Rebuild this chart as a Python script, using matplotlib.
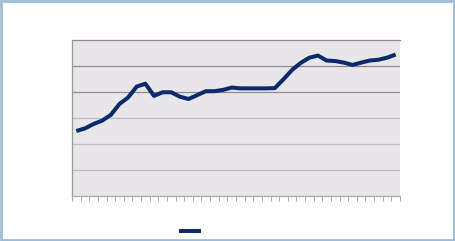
import numpy as np
import matplotlib.pyplot as plt
from matplotlib.patches import Rectangle

# values (one point per category, 38 categories)
values = [2.50, 2.60, 2.77, 2.90, 3.12, 3.54, 3.79, 4.21, 4.32, 3.85,
          3.99, 3.99, 3.82, 3.73, 3.88, 4.03, 4.03, 4.08, 4.17, 4.14,
          4.14, 4.14, 4.14, 4.15, 4.49, 4.85, 5.12, 5.32, 5.40, 5.21,
          5.19, 5.13, 5.04, 5.13, 5.21, 5.24, 5.32, 5.44]
y_grid = [0, 1, 2, 3, 4, 5, 6]

n = len(values)
x = np.arange(n) + 0.5

fig = plt.figure(figsize=(4.55, 2.41), dpi=100)
fig.patch.set_facecolor("white")

# light blue frame around the chart
fig.patches.append(Rectangle((0.002, 0.004), 0.996, 0.992, transform=fig.transFigure,
                             fill=False, edgecolor="#9ebcd8", linewidth=2.0))

ax = fig.add_axes([72 / 455, 45 / 241, 328 / 455, 156 / 241])
ax.set_facecolor("#e8e6e8")

# gridlines: lower ones come out lighter in the reference
for g in y_grid[1:-1]:
    col = "#bdbdbd" if g <= 3 else "#8c8c8c"
    ax.axhline(g, color=col, linewidth=0.9, zorder=1)

line, = ax.plot(x, values, color="#0b2a6b", linewidth=2.9, solid_capstyle="butt",
                solid_joinstyle="round", label=" ", zorder=3)

ax.set_xlim(0, n)
ax.set_ylim(y_grid[0], y_grid[-1])
ax.set_yticks([])

ax.set_xticks(np.arange(n + 1))
ax.tick_params(axis="x", direction="out", length=3.5, width=0.7, color="#a8a8a8",
               labelbottom=False)

ax.spines["top"].set_color("#8c8c8c")
ax.spines["left"].set_color("#9a9a9a")
ax.spines["bottom"].set_color("#a8a8a8")
for side in ["left", "bottom", "top"]:
    ax.spines[side].set_linewidth(0.9)
ax.spines["right"].set_visible(False)

fig.legend(handles=[line], loc="center left", bbox_to_anchor=(179 / 455, 1 - 231 / 241),
           frameon=False, handlelength=2.3, fontsize=7, borderpad=0,
           borderaxespad=0, handletextpad=0.2)

fig.savefig("out.png", dpi=100)
